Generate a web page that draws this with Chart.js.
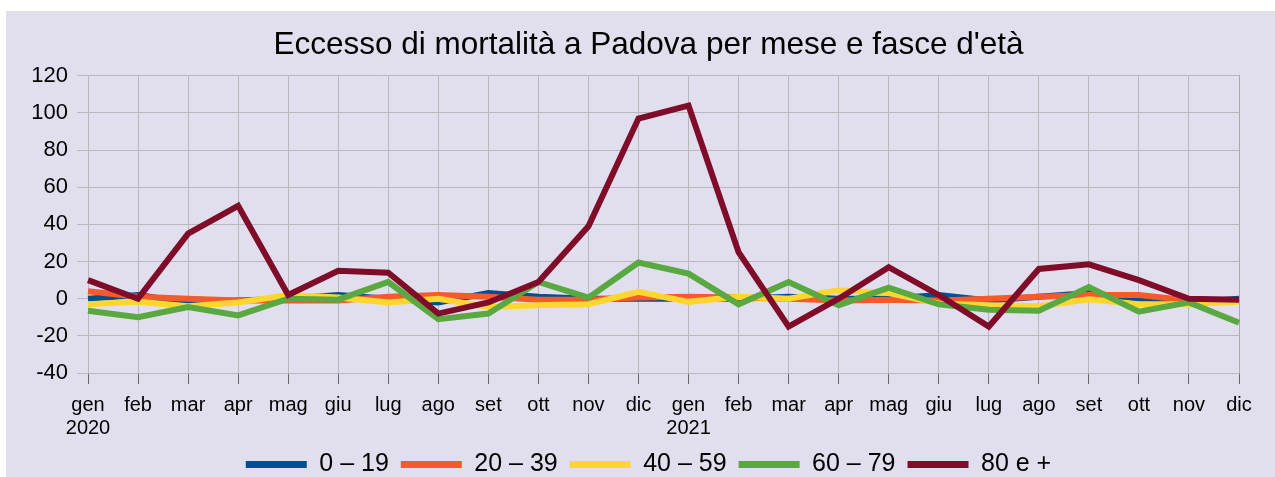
<!DOCTYPE html>
<html>
<head>
<meta charset="utf-8">
<script src="https://cdn.jsdelivr.net/npm/chart.js@4/dist/chart.umd.min.js"></script>
<style>
  html, body { margin: 0; padding: 0; background: #ffffff; overflow: hidden; }
  #wrap { position: absolute; left: 6px; top: 11px; width: 1285px; height: 476px; background: #e1dfee; }
</style>
</head>
<body>
<div id="wrap"><canvas id="chart" width="1285" height="476"></canvas></div>
<script>
const months = [
  ["gen", "2020"], "feb", "mar", "apr", "mag", "giu", "lug", "ago", "set", "ott", "nov", "dic",
  ["gen", "2021"], "feb", "mar", "apr", "mag", "giu", "lug", "ago", "set", "ott", "nov", "dic"
];

const age0_19  = [0, 2, -2, -1, 0, 2, 0, -2, 3, 1, 0, 0, 0, 0, 1, 0, 0, 2, -1, 1, 3, 0, -2, 0];
const age20_39 = [4, 1, 0, -1, -1, -1, 1, 2, 1, -0.5, -0.5, 0.7, 1, 0.7, 0, -1, -0.5, -1, 0, 1, 2, 2, -1, -1];
const age40_59 = [-3, -1.7, -4, -2, 2, 0.6, -2, 0, -4.5, -3.5, -3, 3.7, -1.7, 1, 0, 4.6, 3, -2.6, -3.5, -4, -0.3, -3, -3, -1.7];
const age60_79 = [-6.5, -10, -4.5, -9, 0, -0.5, 9, -11, -8, 9, 0.6, 19.5, 13.5, -3, 9, -3.5, 6, -3, -6, -6.5, 6.3, -7, -2, -13];
const age80    = [10, 0, 35, 50, 2, 15, 14, -8, -2, 9, 39, 97, 104, 25, -15, 0, 17, 2, -15, 16, 18.5, 10, 0, -0.5];

const yTicks = [-40, -20, 0, 20, 40, 60, 80, 100, 120];

const gridColor = "#b8b8bc";

function line(label, data, color) {
  return {
    label: label,
    data: data,
    borderColor: color,
    backgroundColor: color,
    borderWidth: 6,
    pointRadius: 0,
    tension: 0,
    borderJoinStyle: "miter"
  };
}

// last series on top, like the original
new Chart(document.getElementById("chart"), {
  type: "line",
  data: {
    labels: months,
    datasets: [
      line("80 e +", age80, "#7f0d2a"),
      line("60 \u2013 79", age60_79, "#5aa842"),
      line("40 \u2013 59", age40_59, "#ffd630"),
      line("20 \u2013 39", age20_39, "#f5592c"),
      line("0 \u2013 19", age0_19, "#00508f")
    ]
  },
  options: {
    responsive: false,
    animation: false,
    layout: { padding: 0 },
    plugins: {
      title: {
        display: true,
        text: "Eccesso di mortalità a Padova per mese e fasce d'età",
        color: "#000",
        font: { family: "Liberation Sans", size: 31.5, weight: "normal" },
        padding: { top: 15, bottom: 12 }
      },
      legend: {
        position: "bottom",
        reverse: true,
        labels: {
          color: "#000",
          font: { family: "Liberation Sans", size: 25 },
          boxWidth: 61,
          boxHeight: 7,
          padding: 12,
          generateLabels: (chart) => {
            const items = Chart.defaults.plugins.legend.labels.generateLabels(chart);
            items.forEach((it) => { it.lineWidth = 0; });
            return items;
          }
        }
      },
      tooltip: { enabled: false }
    },
    scales: {
      x: {
        offset: false,
        afterFit: (scale) => { scale.height = 67; },
        grid: { color: gridColor, tickLength: 11, tickColor: "#666" },
        border: { color: gridColor },
        ticks: {
          color: "#000",
          font: { family: "Liberation Sans", size: 20, lineHeight: 1.15 },
          maxRotation: 0,
          autoSkip: false,
          padding: 10
        }
      },
      y: {
        min: -40,
        max: 120,
        afterFit: (scale) => { scale.width = 82; },
        afterBuildTicks: (scale) => { scale.ticks = yTicks.map((v) => ({ value: v })); },
        grid: { color: gridColor, tickLength: 11, tickColor: gridColor },
        border: { color: gridColor },
        ticks: {
          color: "#000",
          font: { family: "Liberation Sans", size: 22 },
          padding: 9
        }
      },
      // empty right axis: keeps the right margin and draws the frame edge
      yRight: {
        position: "right",
        min: -40,
        max: 120,
        afterFit: (scale) => { scale.width = 52; },
        grid: { display: false },
        border: { color: "#a9a9ad" },
        ticks: { display: false }
      }
    }
  }
});
</script>
</body>
</html>
